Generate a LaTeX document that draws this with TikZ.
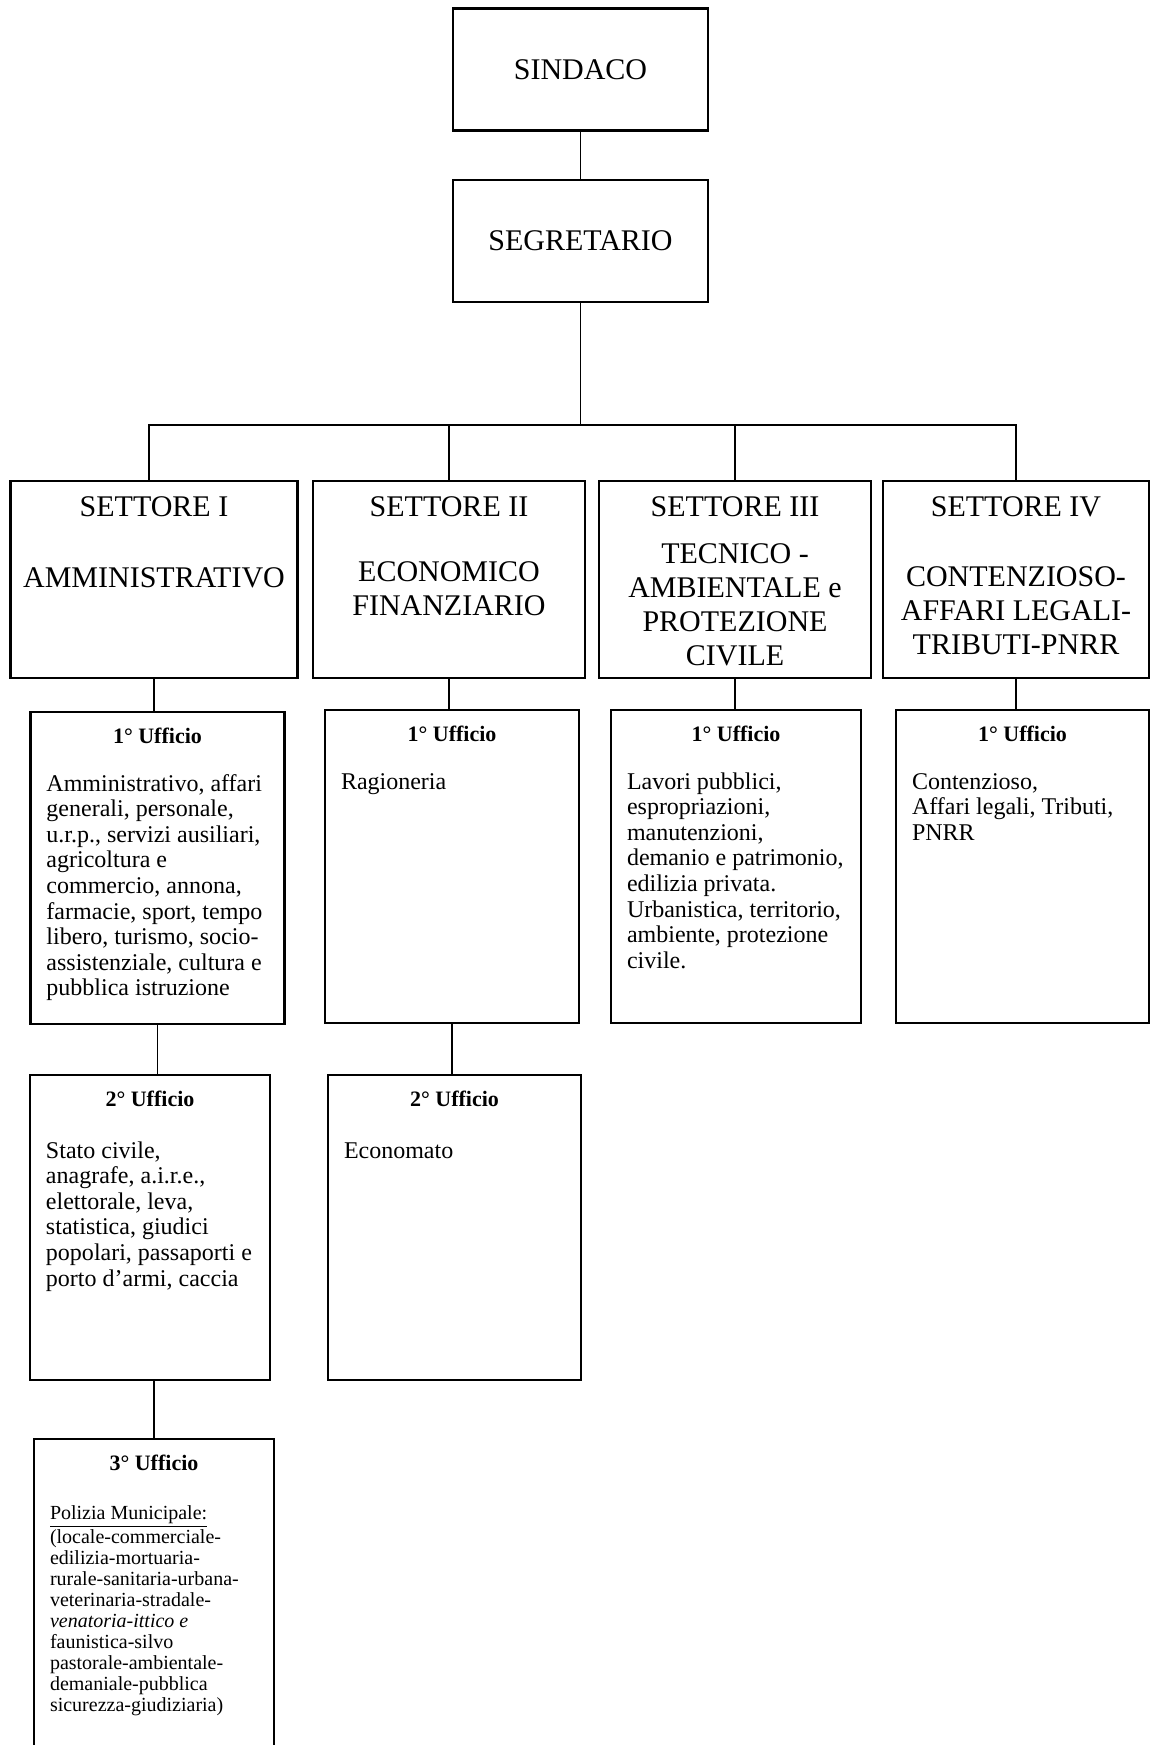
\documentclass[tikz,border=0pt]{standalone}
\usepackage{fontspec}
\setmainfont{Liberation Serif}
\usepackage{tikz}

% box with a centred bold title and the text below it, from the top
\newcommand{\uffbox}[5]{%
	\parbox[c][#2][t]{#1}{\centering\bfseries\fontsize{11}{13}\selectfont #3\par
		\vspace{#4}\raggedright\mdseries #5}}

\begin{document}
\begin{tikzpicture}[x=0.5pt, y=-0.5pt]
		
		% Define block styles
		\tikzstyle{capo} = [rectangle, draw, line width=1.2pt, minimum width=127.5pt, minimum height=61pt, inner sep=0pt, font=\fontsize{15}{17}\selectfont]
		\tikzstyle{settore} = [rectangle, draw, line width=1.2pt, inner xsep=2pt, inner ysep=8pt, font=\fontsize{15}{17}\selectfont]
		\tikzstyle{ufficio} = [rectangle, draw, line width=1.2pt, inner xsep=8pt, inner ysep=8pt]
		\tikzstyle{linea} = [line width=0.8pt]
		
		\useasboundingbox (0,0) rectangle (1151,1745);
		
		% Nodes
		\node[capo] (sindaco) at (580.5,69.5) {SINDACO};
		\node[capo] (segretario) at (580.5,241) {SEGRETARIO};
		
		\node[settore] (s1) at (154,579.5) {\parbox[c][82.5pt][t]{139.5pt}{\centering SETTORE I\\[18.5pt] AMMINISTRATIVO}};
		\node[settore] (s2) at (449,579.5) {\parbox[c][82.5pt][t]{132pt}{\centering SETTORE II\\[15.5pt] ECONOMICO\\ FINANZIARIO}};
		\node[settore] (s3) at (735,579.5) {\parbox[c][82.5pt][t]{132pt}{\centering SETTORE III\\[6.5pt] TECNICO -\\ AMBIENTALE e\\ PROTEZIONE\\ CIVILE}};
		\node[settore] (s4) at (1016,579.5) {\parbox[c][82.5pt][t]{129pt}{\centering SETTORE IV\\[18pt] CONTENZIOSO-\\ AFFARI LEGALI-\\ TRIBUTI-PNRR}};
		
		\node[ufficio] (u11) at (157.5,868) {\uffbox{111pt}{140pt}{1° Ufficio}{11pt}{\fontsize{12}{12.8}\selectfont Amministrativo, affari\\ generali, personale,\\ u.r.p., servizi ausiliari,\\ agricoltura e\\ commercio, annona,\\ farmacie, sport, tempo\\ libero, turismo, socio-\\ assistenziale, cultura e\\ pubblica istruzione}};
		\node[ufficio] (u21) at (452,866.5) {\uffbox{111pt}{140.5pt}{1° Ufficio}{11pt}{\fontsize{12}{12.8}\selectfont Ragioneria}};
		\node[ufficio] (u31) at (736,866.5) {\uffbox{109pt}{140.5pt}{1° Ufficio}{11pt}{\fontsize{12}{12.8}\selectfont Lavori pubblici,\\ espropriazioni,\\ manutenzioni,\\ demanio e patrimonio,\\ edilizia privata.\\ Urbanistica, territorio,\\ ambiente, protezione\\ civile.}};
		\node[ufficio] (u41) at (1022.5,866.5) {\uffbox{110.5pt}{140.5pt}{1° Ufficio}{11pt}{\fontsize{12}{12.8}\selectfont Contenzioso,\\ Affari legali, Tributi,\\ PNRR}};
		
		\node[ufficio] (u12) at (150,1227.5) {\uffbox{104pt}{136.5pt}{2° Ufficio}{13pt}{\fontsize{12}{12.8}\selectfont Stato civile,\\ anagrafe, a.i.r.e.,\\ elettorale, leva,\\ statistica, giudici\\ popolari, passaporti e\\ porto d'armi, caccia}};
		\node[ufficio] (u22) at (454.5,1227.5) {\uffbox{110.5pt}{136.5pt}{2° Ufficio}{13pt}{\fontsize{12}{12.8}\selectfont Economato}};
		
		\node[ufficio] (u13) at (154,1614.5) {\uffbox{104pt}{159.5pt}{3° Ufficio}{14pt}{\fontsize{10}{10.5}\selectfont \underline{Polizia Municipale:}\\ (locale-commerciale-\\ edilizia-mortuaria-\\ rurale-sanitaria-urbana-\\ veterinaria-stradale-\\ \textit{venatoria-ittico e}\\ faunistica-silvo\\ pastorale-ambientale-\\ demaniale-pubblica\\ sicurezza-giudiziaria)}};
		
		% Lines
		\path (segretario.south) ++(0,122) coordinate (bus);
		\draw[linea] (sindaco) -- (segretario);
		\draw[linea] (segretario.south) -- (bus);
		\draw[linea] ([xshift=-2.5pt]s1.north) |- (bus);
		\draw[linea] (s2.north) |- (bus);
		\draw[linea] (s3.north) |- (bus);
		\draw[linea] (s4.north) |- (bus);
		
		\draw[linea] (s1.south) -- (s1.south |- u11.north);
		\draw[linea] (s2.south) -- (s2.south |- u21.north);
		\draw[linea] (s3.south) -- (s3.south |- u31.north);
		\draw[linea] (s4.south) -- (s4.south |- u41.north);
		
		\draw[linea] (u11.south) -- (u11.south |- u12.north);
		\draw[linea] (u21.south) -- (u21.south |- u22.north);
		\draw[linea] (u13.north) -- (u13.north |- u12.south);
		
	\end{tikzpicture}
\end{document}
